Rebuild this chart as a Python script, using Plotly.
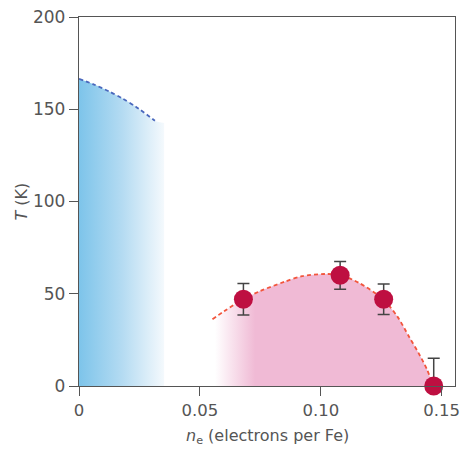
import plotly.graph_objects as go

# Measured data points (Tc vs electron doping)
ne_pts = [0.068, 0.108, 0.126, 0.1467]
tc_pts = [47, 60, 47, 0]
err_plus = [8.5, 7.5, 8.3, 15]
err_minus = [8.5, 7.5, 8.3, 0]

# Guide curve for the superconducting dome
dome_x = [0.0552, 0.060, 0.0678, 0.075, 0.085, 0.0922, 0.1016, 0.108, 0.1159,
          0.1256, 0.1317, 0.1365, 0.1405, 0.144, 0.1465]
dome_y = [36.2, 40.5, 47, 51.5, 56.5, 59.5, 60.7, 60.2, 55.8,
          47.2, 37.6, 26.7, 17.7, 8.7, 0]

# Guide curve for the magnetic (SDW) phase boundary
sdw_x = [0, 0.006, 0.0127, 0.018, 0.0235, 0.0314]
sdw_y = [166.5, 163.5, 159.5, 155.8, 151.4, 143.8]
sdw_fill_x = sdw_x + [0.0352]
sdw_fill_y = sdw_y + [142.5]

x_ticks = [0, 0.05, 0.10, 0.15]
x_ticklabels = ["0", "0.05", "0.10", "0.15"]
y_ticks = [0, 50, 100, 150, 200]

FONT = "DejaVu Sans"
GREY = "#555555"

fig = go.Figure()

# blue region
fig.add_trace(go.Scatter(
    x=sdw_fill_x, y=sdw_fill_y, mode="lines", line=dict(width=0, shape="spline", smoothing=0.8),
    fill="tozeroy",
    fillgradient=dict(type="horizontal", start=0, stop=0.0352,
                      colorscale=[[0, "rgb(125,196,234)"], [0.5, "rgb(180,219,242)"],
                                  [1, "rgb(246,250,253)"]]),
    hoverinfo="skip", showlegend=False))
fig.add_trace(go.Scatter(
    x=sdw_x, y=sdw_y, mode="lines",
    line=dict(color="#4a68bd", width=1.8, dash="4px,3px", shape="spline", smoothing=0.8),
    showlegend=False))

# pink dome
fig.add_trace(go.Scatter(
    x=dome_x, y=dome_y, mode="lines", line=dict(width=0, shape="spline", smoothing=0.8),
    fill="tozeroy",
    fillgradient=dict(type="horizontal", start=0.0555, stop=0.1465,
                      colorscale=[[0, "rgb(255,255,255)"], [0.18, "rgb(240,186,213)"],
                                  [1, "rgb(240,186,213)"]]),
    hoverinfo="skip", showlegend=False))
fig.add_trace(go.Scatter(
    x=dome_x, y=dome_y, mode="lines",
    line=dict(color="#f2553c", width=1.8, dash="4px,3px", shape="spline", smoothing=0.8),
    showlegend=False))

# data points
fig.add_trace(go.Scatter(
    x=ne_pts, y=tc_pts, mode="markers",
    marker=dict(color="#be0f41", size=19, line=dict(width=0)),
    error_y=dict(type="data", array=err_plus, arrayminus=err_minus,
                 color="#444444", thickness=1.5, width=6),
    cliponaxis=False, showlegend=False))

fig.update_layout(
    width=462, height=450,
    margin=dict(l=79, r=2, t=17, b=64),
    plot_bgcolor="white", paper_bgcolor="white",
    font=dict(family=FONT, size=17, color=GREY),
    xaxis=dict(range=[0, 0.1555], tickvals=x_ticks, ticktext=x_ticklabels,
               ticks="outside", ticklen=9, tickcolor="#555", tickwidth=1.3,
               showline=True, linecolor="#555", linewidth=1.3, mirror=True,
               showgrid=False, zeroline=False, ticklabeloverflow="allow",
               tickfont=dict(size=16.5, color=GREY)),
    yaxis=dict(range=[0, 200], tickvals=y_ticks,
               ticks="outside", ticklen=9, tickcolor="#555", tickwidth=1.3,
               showline=True, linecolor="#555", linewidth=1.3, mirror=True,
               showgrid=False, zeroline=False, ticklabeloverflow="allow",
               tickfont=dict(size=17, color=GREY)),
    annotations=[
        dict(text="<i>n</i><sub>e</sub> (electrons per Fe)", xref="paper", yref="paper",
             x=0.5, y=0, yshift=-50, xanchor="center", yanchor="middle",
             showarrow=False, font=dict(family=FONT, size=16, color=GREY)),
        dict(text="<i>T</i> (K)", xref="paper", yref="paper",
             x=0, y=0.5, xshift=-58, textangle=-90, xanchor="center", yanchor="middle",
             showarrow=False, font=dict(family=FONT, size=16, color=GREY)),
    ],
)

fig.write_html("out.html", config={"displayModeBar": False},
               post_script="document.body.style.margin='0';document.body.style.overflow='hidden';")
